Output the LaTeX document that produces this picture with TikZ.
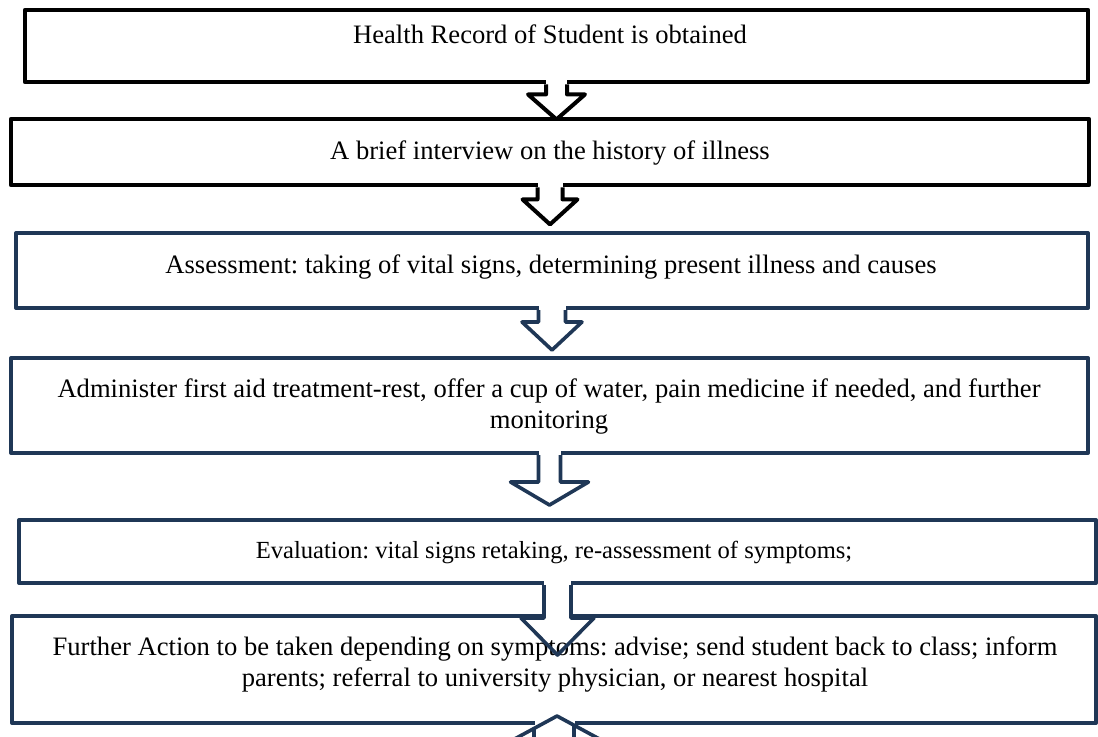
\documentclass[tikz,border=0pt]{standalone}
\usepackage{fontspec}
\setmainfont{Liberation Serif}
\usepackage{tikz}
\usetikzlibrary{calc,positioning}
\definecolor{boxBlue}{RGB}{31,55,86}
\frenchspacing
\tikzset{
  blackbox/.style={draw=black,line width=2.4pt,line join=round,inner sep=0pt},
  bluebox/.style={draw=boxBlue,line width=2pt,line join=round,inner sep=0pt},
  boxtext/.style={font=\fontsize{13.3}{15.5}\selectfont,align=center,inner sep=0pt,anchor=base},
  blackarrow/.style={draw=black,line width=2pt,line join=round},
  bluearrow/.style={draw=boxBlue,line width=1.8pt,line join=round}}
% block arrow hanging from the south side of a box:
% #1 style, #2 box, #3 shaft half width, #4 shaft length, #5 head half width, #6 head length
\newcommand{\flowarrow}[6]{%
  \fill[white] ($(#2.south)+(-#3,-4)$) rectangle ($(#2.south)+(#3,#4+3)$);
  \draw[#1] ($(#2.south)+(-#3,0)$) -- ++(0,#4) -- ++({#3-#5},0) -- ++(#5,#6)
    -- ++(#5,-#6) -- ++({#3-#5},0) -- ++(0,-#4);}

\begin{document}
\begin{tikzpicture}[x=0.5pt,y=-0.5pt]
  \clip (0,0) rectangle (1098,736);

  % boxes
  \node[blackbox,minimum width=531.5pt,minimum height=36pt] (b1) at (556.5,46) {};
  \node[blackbox,minimum width=539pt,minimum height=33pt] (b2) at (550,152) {};
  \node[bluebox,minimum width=536pt,minimum height=37.5pt] (b3) at (552,270.5) {};
  \node[bluebox,minimum width=538.5pt,minimum height=47.5pt] (b4) at (549.5,405.5) {};
  \node[bluebox,minimum width=538.5pt,minimum height=31.5pt] (b5) at (557.5,551.5) {};
  \node[bluebox,minimum width=542pt,minimum height=53.5pt] (b6) at (554,669.5) {};

  % texts (base of a two line node is its last line)
  \node[boxtext] (t1) at (550,43) {Health Record of Student is obtained};
  \node[boxtext] (t2) at (550,159) {A brief interview on the history of illness};
  \node[boxtext] (t3) at (551,273) {Assessment: taking of vital signs, determining present illness and causes};
  \node[boxtext] (t4) at (549,428) {Administer first aid treatment-rest, offer a cup of water, pain medicine if needed, and further\\monitoring};
  \node[boxtext,font=\fontsize{12.3}{15.5}\selectfont] (t5) at (554,558) {Evaluation: vital signs retaking, re-assessment of symptoms;};
  \node[boxtext] (t6) at (555,686) {Further Action to be taken depending on symptoms: advise; send student back to class; inform\\parents; referral to university physician, or nearest hospital};

  % arrows
  \flowarrow{blackarrow}{b1}{10.5}{10}{28.5}{25}
  \flowarrow{blackarrow}{b2}{12.5}{12}{27.5}{25}
  \flowarrow{bluearrow}{b3}{13.5}{12}{30}{28}
  \flowarrow{bluearrow}{b4}{11}{27}{39}{23}
  \flowarrow{bluearrow}{b5}{13.5}{33}{36.5}{37}

  % arrow coming up from below
  \coordinate (peak) at ($(b6.south)+(3,-9)$);
  \fill[white] ($(peak)+(-22,5)$) rectangle ($(peak)+(18,14)$);
  \draw[bluearrow] ($(peak)+(-48,26)$) -- (peak) -- ($(peak)+(48,26)$);
  \draw[bluearrow] ($(peak)+(-23,12)$) -- ++(0,20);
  \draw[bluearrow] ($(peak)+(17,9)$) -- ++(0,20);

\end{tikzpicture}
\end{document}
